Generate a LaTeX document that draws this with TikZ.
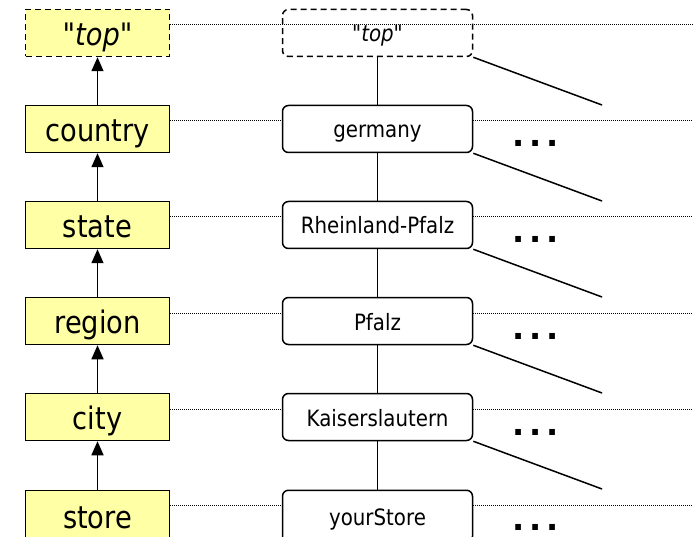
\documentclass[tikz,border=0pt]{standalone}
\usepackage{fontspec}
\setmainfont{DejaVu Sans}[FakeStretch=0.88, Ligatures=TeXOff]
\newfontfamily\dotfont{DejaVu Sans}
\usetikzlibrary{arrows.meta}
\definecolor{lvlc}{HTML}{FFFFA5}
\begin{document}
\begin{tikzpicture}[x=1pt,y=-1pt,
 lvl/.style={draw, line width=1.5pt, fill=lvlc, minimum width=144pt, minimum height=47pt, inner sep=0pt, font=\fontsize{31}{31}\selectfont, text height=30pt, text depth=5pt},
 inst/.style={draw, line width=1.5pt, rounded corners=6pt, fill=white, minimum width=190pt, minimum height=47pt, inner sep=0pt, font=\fontsize{22.5}{22.5}\selectfont, text height=22pt, text depth=4pt},
 topbox/.style={dash pattern=on 6pt off 4pt},
 guide/.style={line width=1pt, dash pattern=on 1pt off 1pt},
 up/.style={line width=1.5pt, -{Triangle[width=12pt,length=14pt]}},
 link/.style={line width=1.5pt},
 more/.style={font=\dotfont\bfseries\fontsize{32}{32}\selectfont, anchor=base, inner sep=0pt, text depth=0pt}
]
\useasboundingbox (0,0) rectangle (693,537);
% level boxes
\node[lvl, topbox, font=\fontsize{31}{31}\selectfont\itshape] (l0) at (97.5,33) {"top"};
\node[lvl] (l1) at (97.5,129) {country};
\node[lvl] (l2) at (97.5,225) {state};
\node[lvl] (l3) at (97.5,321) {region};
\node[lvl] (l4) at (97.5,417) {city};
\node[lvl, minimum height=52pt, anchor=north] (l5) at (97.5,489.5) {store};
% instance boxes
\node[inst, topbox, fill=none, font=\fontsize{22.5}{22.5}\selectfont\itshape] (r0) at (377.5,33) {"top"};
\node[inst] (r1) at (377.5,129) {germany};
\node[inst] (r2) at (377.5,225) {Rheinland-Pfalz};
\node[inst] (r3) at (377.5,321) {Pfalz};
\node[inst] (r4) at (377.5,417) {Kaiserslautern};
\node[inst, minimum height=52pt, anchor=north] (r5) at (377.5,489.5) {yourStore};
% right edge coordinates
\coordinate (e0) at (693,25);
\coordinate (e1) at (693,121);
\coordinate (e2) at (693,217);
\coordinate (e3) at (693,313);
\coordinate (e4) at (693,409);
\coordinate (e5) at (693,505);
% diagonal ends
\coordinate (d0) at (602,105);
\coordinate (d1) at (602,201);
\coordinate (d2) at (602,297);
\coordinate (d3) at (602,393);
\coordinate (d4) at (602,489);
% guides
\draw[guide] ([yshift=8pt]l0.east) -- (e0);
\foreach \k in {1,...,4}{
  \draw[guide] ([yshift=8pt]l\k.east) -- ([yshift=8pt]r\k.west);
  \draw[guide] ([yshift=8pt]r\k.east) -- (e\k);
}
\draw[guide] (l5.east |- e5) -- (r5.west |- e5);
\draw[guide] (r5.east |- e5) -- (e5);
% arrows between levels
\draw[up] (l1.north) -- (l0.south);
\draw[up] (l2.north) -- (l1.south);
\draw[up] (l3.north) -- (l2.south);
\draw[up] (l4.north) -- (l3.south);
\draw[up] (l5.north) -- (l4.south);
% instance links
\draw[link] (r0.south) -- (r1.north);
\draw[link] (r1.south) -- (r2.north);
\draw[link] (r2.south) -- (r3.north);
\draw[link] (r3.south) -- (r4.north);
\draw[link] (r4.south) -- (r5.north);
% diagonals
\foreach \k in {0,...,4}{
  \draw[link] (r\k.south east) -- (d\k);
}
% more
\node[more] (m1) at (535.5,147) {.\kern4.5pt.\kern4.5pt.};
\node[more] (m2) at (535.5,243) {.\kern4.5pt.\kern4.5pt.};
\node[more] (m3) at (535.5,339) {.\kern4.5pt.\kern4.5pt.};
\node[more] (m4) at (535.5,435) {.\kern4.5pt.\kern4.5pt.};
\node[more] (m5) at (535.5,530) {.\kern4.5pt.\kern4.5pt.};
\end{tikzpicture}
\end{document}
